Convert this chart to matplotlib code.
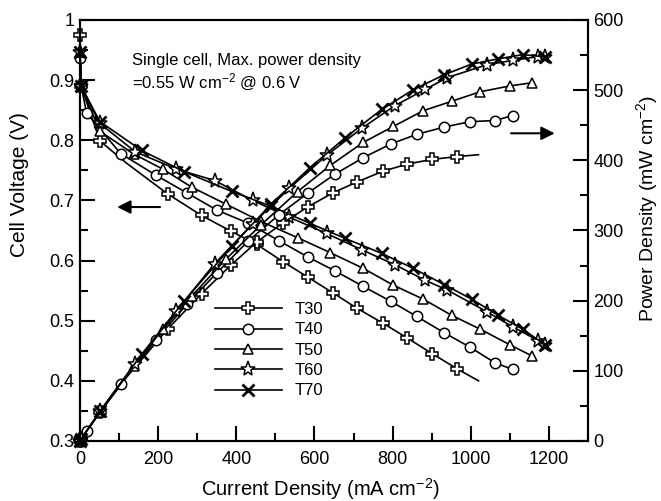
import matplotlib
matplotlib.use('Agg')
from matplotlib import pyplot as plt
from matplotlib.ticker import MultipleLocator, FuncFormatter

# current density (mA cm-2), cell voltage (V), power density (mW cm-2)
cur_t30 = [0, 3, 51, 119, 224, 311, 386, 452, 520, 584, 648, 708, 775, 838, 902, 965, 1020]
volt_t30 = [0.975, 0.89, 0.799, 0.762, 0.711, 0.675, 0.649, 0.627, 0.598, 0.572, 0.546, 0.521, 0.496, 0.471, 0.445, 0.420, 0.400]
pow_t30 = [0, 2.7, 40.7, 90.7, 159.3, 209.9, 250.5, 283.4, 311.0, 334.0, 353.8, 368.9, 384.4, 394.7, 401.4, 405.3, 408.0]

cur_t40 = [0, 3, 17, 104, 194, 275, 350, 431, 509, 583, 652, 725, 796, 862, 932, 998, 1062, 1107]
volt_t40 = [0.936, 0.89, 0.845, 0.778, 0.742, 0.712, 0.684, 0.662, 0.633, 0.606, 0.583, 0.557, 0.532, 0.507, 0.480, 0.456, 0.430, 0.419]
pow_t40 = [0, 2.7, 14.4, 80.9, 144.0, 195.8, 239.4, 285.3, 322.2, 353.3, 380.1, 403.8, 423.5, 437.0, 447.4, 455.1, 456.7, 463.8]

cur_t50 = [0, 3, 51, 138, 212, 286, 373, 463, 557, 641, 725, 802, 878, 951, 1024, 1100, 1158]
volt_t50 = [0.947, 0.89, 0.815, 0.777, 0.752, 0.722, 0.694, 0.665, 0.638, 0.613, 0.587, 0.559, 0.536, 0.509, 0.486, 0.460, 0.441]
pow_t50 = [0, 2.7, 41.6, 107.2, 159.4, 206.5, 258.9, 307.9, 355.4, 392.9, 425.6, 448.3, 470.6, 484.1, 497.7, 506.0, 510.7]

cur_t60 = [0, 3, 51, 141, 247, 345, 442, 536, 631, 721, 806, 884, 940, 1041, 1107, 1173, 1190]
volt_t60 = [0.947, 0.89, 0.828, 0.781, 0.752, 0.733, 0.700, 0.672, 0.645, 0.618, 0.593, 0.567, 0.551, 0.515, 0.490, 0.467, 0.460]
pow_t60 = [0, 2.7, 42.2, 110.1, 185.7, 252.9, 309.4, 360.2, 407.0, 445.6, 478.0, 501.2, 517.9, 536.1, 542.4, 547.8, 547.4]

cur_t70 = [0, 3, 51, 158, 266, 388, 490, 588, 678, 772, 853, 932, 1002, 1070, 1133, 1190]
volt_t70 = [0.947, 0.89, 0.831, 0.783, 0.748, 0.715, 0.690, 0.662, 0.637, 0.612, 0.587, 0.560, 0.536, 0.509, 0.486, 0.460]
pow_t70 = [0, 2.7, 42.4, 123.7, 199.0, 277.4, 338.1, 389.3, 431.9, 472.5, 500.7, 521.9, 537.1, 544.6, 550.6, 547.4]

labels = ['T30', 'T40', 'T50', 'T60', 'T70']

plt.rcParams['font.family'] = ['Liberation Sans', 'DejaVu Sans']
plt.rcParams['mathtext.default'] = 'regular'

series = [
    (cur_t30, volt_t30, pow_t30, dict(marker='P', ms=8.5)),
    (cur_t40, volt_t40, pow_t40, dict(marker='o', ms=7.5)),
    (cur_t50, volt_t50, pow_t50, dict(marker='^', ms=7)),
    (cur_t60, volt_t60, pow_t60, dict(marker='*', ms=11)),
    (cur_t70, volt_t70, pow_t70, dict(marker='x', ms=8, mew=2)),
]
# points drawn as line only (no marker)
skip = {0: [3, 16]}

fig = plt.figure(figsize=(6.61, 5.01), dpi=100)
ax = fig.add_axes([0.121, 0.1198, 0.7685, 0.8403])
ax2 = ax.twinx()

handles = []
for i, (x, v, p, mk) in enumerate(series):
    every = [k for k in range(len(x)) if k not in skip.get(i, [])]
    style = dict(color='black', lw=1.2, mfc='white', mec='black', mew=1.1,
                 markevery=every, clip_on=False)
    style.update(mk)
    h, = ax.plot(x, v, label=labels[i], **style)
    ax2.plot(x, p, **style)
    handles.append(h)

ax.set_xlim(0, 1300)
ax.set_ylim(0.3, 1.0)
ax2.set_ylim(0, 600)

ax.xaxis.set_major_locator(MultipleLocator(200))
ax.xaxis.set_minor_locator(MultipleLocator(100))
ax.yaxis.set_major_locator(MultipleLocator(0.1))
ax.yaxis.set_minor_locator(MultipleLocator(0.05))
ax.yaxis.set_major_formatter(FuncFormatter(lambda v, pos: '%g' % round(v, 2)))
ax2.yaxis.set_major_locator(MultipleLocator(100))
ax2.yaxis.set_minor_locator(MultipleLocator(50))

ax.tick_params(axis='both', which='both', direction='in', width=1.5, labelsize=13)
ax.tick_params(axis='both', which='major', length=11)
ax.tick_params(axis='both', which='minor', length=6)
ax.tick_params(axis='x', pad=7)
ax.tick_params(axis='y', pad=4)
ax2.tick_params(axis='y', which='both', direction='in', width=1.5, labelsize=13, pad=4)
ax2.tick_params(axis='y', which='major', length=11)
ax2.tick_params(axis='y', which='minor', length=6)
for a in (ax, ax2):
    for s in a.spines.values():
        s.set_linewidth(1.5)

ax.set_xlabel('Current Density (mA cm$^{-2}$)', fontsize=14.5)
ax.set_ylabel('Cell Voltage (V)', fontsize=15)
ax2.set_ylabel('Power Density (mW cm$^{-2}$)', fontsize=14)
ax.xaxis.set_label_coords(0.473, -0.083)
ax.yaxis.set_label_coords(-0.100, 0.608)
ax2.yaxis.set_label_coords(1.090, 0.553)

ax.text(0.102, 0.8736, 'Single cell, Max. power density\n=0.55 W cm$^{-2}$ @ 0.6 V',
        transform=ax.transAxes, fontsize=12, va='center', ha='left', linespacing=1.25)

# arrows pointing at the matching axis
ax.annotate('', xy=(88, 0.689), xytext=(212, 0.689),
            arrowprops=dict(arrowstyle='-|>', color='black', lw=1.5, mutation_scale=20))
ax2.annotate('', xy=(1222, 438.5), xytext=(1096, 438.5),
             arrowprops=dict(arrowstyle='-|>', color='black', lw=1.5, mutation_scale=20))

ax.legend(handles=handles, loc='upper left', bbox_to_anchor=(0.266, 0.33), frameon=False,
          fontsize=12, handlelength=4.0, handletextpad=0.75, labelspacing=0.32,
          borderpad=0, borderaxespad=0)

plt.savefig('out.png', dpi=100)
plt.close()
